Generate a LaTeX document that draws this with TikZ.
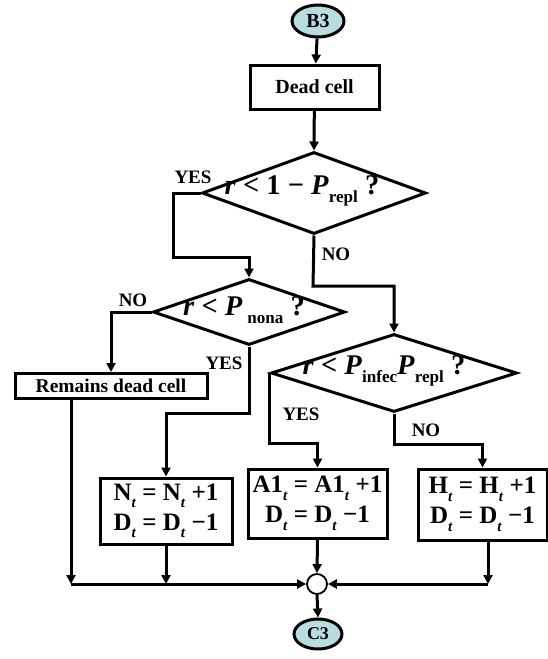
\documentclass[tikz,border=0pt]{standalone}
\usepackage{fontspec}
\setmainfont{Liberation Serif}
\usetikzlibrary{shapes.geometric,arrows.meta,calc}
\definecolor{termfill}{RGB}{183,221,224}
% italic variable and lowered subscript
\newcommand{\bi}[1]{\textit{#1}}
\newcommand{\lowsub}[1]{\raisebox{-0.3em}{\scalebox{0.6}{#1}}}
\newcommand{\tsub}{\lowsub{\textit{t}}}
\begin{document}
\begin{tikzpicture}[x=1pt,y=-1pt,
  line width=3pt,
  arr/.style={-{Triangle[length=9pt,width=9pt]}},
  term/.style={ellipse,draw,fill=termfill,inner sep=0pt,line width=3pt,
    font=\fontsize{20}{20}\selectfont\bfseries},
  proc/.style={rectangle,draw,inner sep=0pt,
    font=\fontsize{20}{22}\selectfont\bfseries},
  eqbox/.style={rectangle,draw,inner sep=0pt,align=center,
    font=\fontsize{25}{30}\selectfont\bfseries},
  dec/.style={diamond,draw,inner sep=0pt,aspect=2.7},
  dtext/.style={inner sep=0pt,font=\fontsize{28.5}{28.5}\selectfont\bfseries},
  lbl/.style={inner sep=0pt,font=\fontsize{19}{19}\selectfont\bfseries}]
\useasboundingbox (0,0) rectangle (548,659);

% terminals
\node[term,minimum width=52pt,minimum height=32pt] (b3) at (318,21) {B3};
\node[term,minimum width=48pt,minimum height=30pt,
  font=\fontsize{18}{18}\selectfont\bfseries] (c3) at (318,634) {C3};

% process boxes
\node[proc,minimum width=129pt,minimum height=44pt] (dead) at (314.5,87) {Dead cell};
\node[proc,minimum width=192pt,minimum height=25pt,
  font=\fontsize{19.5}{20}\selectfont\bfseries] (rem) at (111,386) {Remains dead cell};
\node[eqbox,minimum width=132pt,minimum height=66pt] (nb) at (166,511)
  {N\tsub{} = N\tsub{} +1\\D\tsub{} = D\tsub{} −1};
\node[eqbox,minimum width=139pt,minimum height=69pt] (a1) at (317.5,503.5)
  {A1\tsub{} = A1\tsub{} +1\\D\tsub{} = D\tsub{} −1};
\node[eqbox,minimum width=129pt,minimum height=71pt] (hb) at (482.5,504.5)
  {H\tsub{} = H\tsub{} +1\\D\tsub{} = D\tsub{} −1};

% decisions
\node[dec,minimum width=224pt,minimum height=82pt] (d1) at (314,193) {};
\node[dtext] (t1) at (302,191) {\bi{r} < 1 − \bi{P}\lowsub{repl} ?};
\node[dec,minimum width=192pt,minimum height=66pt] (d2) at (249,312) {};
\node[dtext] (t2) at (244,310) {\bi{r} < \bi{P}\,\lowsub{nona} ?};
\node[dec,minimum width=246pt,minimum height=78pt] (d3) at (394,373) {};
\node[dtext] (t3) at (384,371) {\bi{r} < \bi{P}\lowsub{infec}\bi{P}\lowsub{repl} ?};

% junction
\node[circle,draw,fill=white,line width=1.8pt,minimum size=20pt,inner sep=0pt] (j) at (317,584) {};

% branch labels
\node[lbl] (l1) at (193,177) {YES};
\node[lbl] (l2) at (336,254) {NO};
\node[lbl] (l3) at (133,300) {NO};
\node[lbl] (l4) at (224,363) {YES};
\node[lbl] (l5) at (301,414) {YES};
\node[lbl] (l6) at (426,430) {NO};

% connectors
\coordinate (ya) at (173,257);
\coordinate (na) at (313,286);
\coordinate (yb) at (249,413);
\coordinate (ma) at (71,584);
\coordinate (mb) at (488,584);

\draw[arr] (b3) -- (dead);
\draw[arr] (dead) -- (d1.north);
\draw[arr] (d1.west) -| (ya) -| (d2.north);
\draw[arr] (d1.south) -- (na) -| (d3.north);
\draw[arr] (d2.west) -| (rem.north);
\draw[arr] (d2.south) -- (yb) -| (nb.north);
\draw[arr] (d3.west) -- ++(0,70) -| (a1.north);
\draw[arr] (d3.south) -- ++(0,31) -| (hb.north);
\draw[arr] (rem.south -| ma) -- (ma);
\draw[arr] (nb.south) -- (nb.south |- ma);
\draw[arr] (hb.south -| mb) -- (mb);
\draw[arr] (ma) -- (j.west);
\draw[arr] (mb) -- (j.east);
\draw[arr] (a1.south) -- (j.north);
\draw[arr] (j.south) -- (c3.north);
\end{tikzpicture}
\end{document}
